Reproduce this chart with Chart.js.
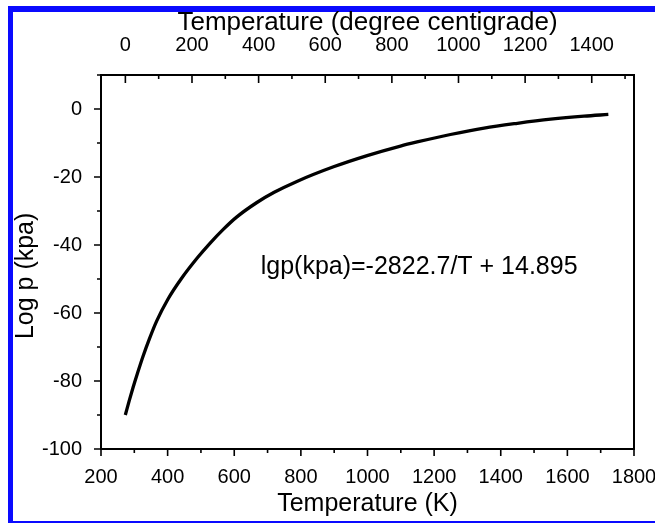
<!DOCTYPE html>
<html>
<head>
<meta charset="utf-8">
<script src="https://cdn.jsdelivr.net/npm/chart.js@4.4.1/dist/chart.umd.min.js"></script>
<style>
  html, body { margin: 0; padding: 0; background: #fff; }
  #wrap { position: relative; width: 655px; height: 523px; overflow: hidden; }
  .blue { position: absolute; background: #0a0aff; }
  #chartBox { position: absolute; left: 0; top: 0; width: 655px; height: 523px; }
</style>
</head>
<body>
<div id="wrap">
  <div class="blue" style="left:8px; top:6px; width:5px; height:517px;"></div>
  <div class="blue" style="left:8px; top:6px; width:647px; height:6px;"></div>
  <div class="blue" style="left:8px; top:521px; width:647px; height:2px;"></div>
  <div id="chartBox"><canvas id="vapour"></canvas></div>
</div>
<script>
// curve: temperature (K) vs log p (kpa)
const tempK = [273, 285, 296, 310, 326, 345, 367, 400, 442, 490, 527, 567, 607, 668, 720, 788, 898, 999, 1099, 1149, 1249, 1350, 1450, 1550, 1650, 1723];
const logP  = [-90, -85.7, -82.0, -77.6, -72.8, -67.7, -62.4, -56.1, -49.8, -43.7, -39.5, -35.4, -31.8, -27.5, -24.5, -21.3, -17.0, -13.7, -10.9, -9.7, -7.5, -5.6, -4.2, -3.0, -2.1, -1.6];

// tick labels
const kelvinLabels  = [200, 400, 600, 800, 1000, 1200, 1400, 1600, 1800];
const celsiusLabels = [0, 200, 400, 600, 800, 1000, 1200, 1400];
const celsiusTicks  = [0, 100, 200, 300, 400, 500, 600, 700, 800, 900, 1000, 1100, 1200, 1300, 1400, 1500];
const logLabels     = [0, -20, -40, -60, -80, -100];

const eqnText = 'lgp(kpa)=-2822.7/T + 14.895';
const eqnAt = [1155, -46.6];   // (K, log p) centre of the equation

const FONT = '"Liberation Sans", Arial, sans-serif';
const KELVIN0 = 273.15;

// frame + tick marks like the original plot (top ones point inward)
const frameTicks = {
  id: 'frameTicks',
  afterDatasetsDraw(chart) {
    const {ctx, chartArea: a} = chart;
    const {x, x2, y} = chart.scales;
    ctx.save();
    ctx.strokeStyle = '#000';
    ctx.lineWidth = 1.6;
    ctx.beginPath();
    x.ticks.forEach(t => {
      const px = x.getPixelForValue(t.value);
      const len = t.value % 200 === 0 ? 7 : 4;
      ctx.moveTo(px, a.bottom); ctx.lineTo(px, a.bottom + len);
    });
    x2.ticks.forEach(t => {
      const px = x2.getPixelForValue(t.value);
      const len = t.value % 200 === 0 ? 8 : 4;
      ctx.moveTo(px, a.top); ctx.lineTo(px, a.top + len);
    });
    y.ticks.forEach(t => {
      const py = y.getPixelForValue(t.value);
      const len = t.value % 20 === 0 ? 7 : 4;
      ctx.moveTo(a.left, py); ctx.lineTo(a.left - len, py);
    });
    ctx.stroke();
    ctx.lineWidth = 2;
    ctx.strokeRect(a.left, a.top, a.right - a.left, a.bottom - a.top);
    ctx.restore();
  }
};

const eqnLabel = {
  id: 'eqnLabel',
  afterDatasetsDraw(chart) {
    const {ctx, scales: {x, y}} = chart;
    ctx.save();
    ctx.font = '25px ' + FONT;
    ctx.fillStyle = '#000';
    ctx.textAlign = 'center';
    ctx.textBaseline = 'middle';
    ctx.fillText(eqnText, x.getPixelForValue(eqnAt[0]), y.getPixelForValue(eqnAt[1]));
    ctx.restore();
  }
};

new Chart(document.getElementById('vapour'), {
  type: 'scatter',
  data: {
    datasets: [{
      data: tempK.map((k, i) => ({x: k, y: logP[i]})),
      showLine: true,
      borderColor: '#000',
      borderWidth: 3.3,
      pointRadius: 0,
      cubicInterpolationMode: 'monotone',
      fill: false
    }]
  },
  options: {
    responsive: true,
    maintainAspectRatio: false,
    devicePixelRatio: 1,
    animation: false,
    layout: { padding: { left: 0, top: 0, right: 21, bottom: 0 } },
    plugins: { legend: { display: false }, tooltip: { enabled: false } },
    scales: {
      x: {
        type: 'linear', position: 'bottom', min: 200, max: 1800,
        grid: { display: false }, border: { display: false },
        ticks: {
          stepSize: 100, autoSkip: false, maxRotation: 0, padding: 8, color: '#000',
          font: { family: FONT, size: 20 },
          callback: v => kelvinLabels.includes(v) ? String(v) : ''
        },
        title: { display: true, text: 'Temperature (K)', color: '#000',
                 font: { family: FONT, size: 25 }, padding: { top: 0, bottom: 4 } },
        afterFit: s => { s.height = 74; s.paddingLeft = 0; s.paddingRight = 0; }
      },
      x2: {
        type: 'linear', position: 'top', min: 200 - KELVIN0, max: 1800 - KELVIN0,
        grid: { display: false }, border: { display: false },
        afterBuildTicks: s => { s.ticks = celsiusTicks.map(v => ({value: v})); },
        ticks: {
          autoSkip: false, maxRotation: 0, padding: 10, color: '#000',
          font: { family: FONT, size: 20 },
          callback: v => celsiusLabels.includes(v) ? String(v) : ''
        },
        title: { display: true, text: 'Temperature (degree centigrade)', color: '#000',
                 font: { family: FONT, size: 26 }, padding: { top: 7, bottom: 0 } },
        afterFit: s => { s.height = 75; s.paddingLeft = 0; s.paddingRight = 0; }
      },
      y: {
        type: 'linear', position: 'left', min: -100, max: 10,
        grid: { display: false }, border: { display: false },
        ticks: {
          stepSize: 10, autoSkip: false, padding: 11, color: '#000',
          font: { family: FONT, size: 20 },
          callback: v => logLabels.includes(v) ? String(v) : ''
        },
        title: { display: true, text: 'Log p (kpa)    ', color: '#000',
                 font: { family: FONT, size: 25 }, padding: { top: 11, bottom: 0 } },
        afterFit: s => { s.width = 101; }
      }
    }
  },
  plugins: [frameTicks, eqnLabel]
});
</script>
</body>
</html>
